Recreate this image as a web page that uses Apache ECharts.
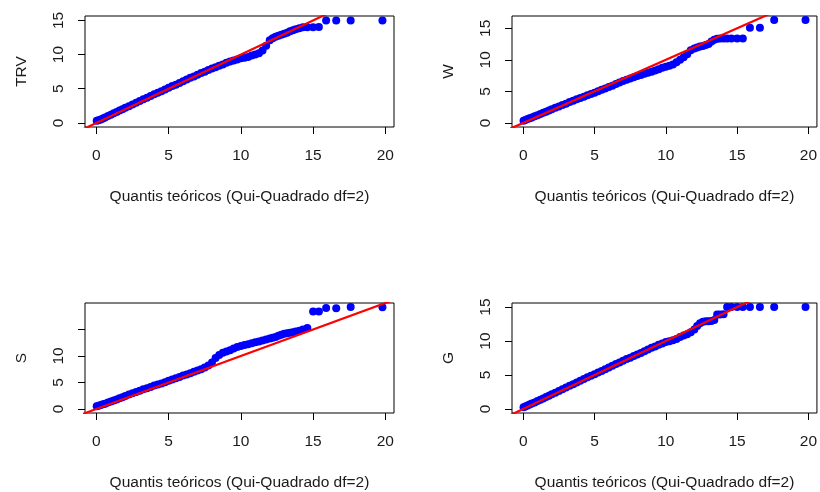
<!DOCTYPE html>
<html>
<head>
<meta charset="utf-8">
<script src="https://cdn.jsdelivr.net/npm/echarts@6/dist/echarts.min.js"></script>
<style>html,body{margin:0;padding:0;background:#fff}#c{width:820px;height:492px}</style>
</head>
<body>
<div id="c"></div>
<script>
// Theoretical quantiles (chi-square, df = 2), shared by all panels
const quantisTeoricos = [0.02,0.15,0.3,0.45,0.6,0.8,1.0,1.2,1.4,1.6,1.8,2.0,2.25,2.5,2.75,3.0,3.25,3.5,3.75,4.0,4.25,4.5,4.75,5.0,5.25,5.5,5.75,6.0,6.25,6.5,6.75,7.0,7.25,7.5,7.75,8.0,8.25,8.5,8.75,9.0,9.25,9.5,9.75,10.0,10.25,10.5,10.75,11.0,11.25,11.5,11.75,12.0,12.2,12.4,12.6,12.8,13.0,13.2,13.4,13.6,13.8,14.05,14.3,14.6,15.0,15.4,15.9,16.6,17.6,19.8];

// Sample quantiles
const valoresTRV = [0.3,0.4,0.5,0.65,0.8,1.0,1.2,1.4,1.6,1.8,2.0,2.2,2.45,2.7,2.95,3.2,3.45,3.7,3.95,4.2,4.4,4.65,4.9,5.15,5.4,5.6,5.85,6.1,6.35,6.6,6.8,7.05,7.3,7.5,7.75,7.95,8.15,8.35,8.55,8.8,9.0,9.15,9.3,9.45,9.55,9.65,9.85,10.0,10.2,10.6,11.3,12.1,12.4,12.6,12.75,12.9,13.05,13.2,13.4,13.55,13.7,13.85,14.0,14.0,14.0,14.05,15.0,15.0,15.0,15.0];
const valoresW = [0.35,0.45,0.6,0.75,0.85,1.05,1.2,1.4,1.6,1.75,1.95,2.15,2.4,2.6,2.85,3.05,3.3,3.5,3.75,3.95,4.15,4.4,4.6,4.8,5.0,5.25,5.45,5.7,5.9,6.15,6.4,6.65,6.85,7.05,7.25,7.45,7.6,7.8,7.95,8.1,8.3,8.5,8.75,8.9,9.05,9.25,9.6,10.0,10.4,10.9,11.5,11.8,11.95,12.1,12.2,12.35,12.5,12.9,13.2,13.35,13.4,13.4,13.4,13.4,13.4,13.4,15.1,15.1,16.3,16.3];
const valoresS = [0.5,0.6,0.75,0.9,1.0,1.2,1.4,1.6,1.8,2.0,2.2,2.45,2.7,2.95,3.2,3.45,3.7,3.9,4.15,4.4,4.6,4.8,5.05,5.3,5.55,5.8,6.05,6.3,6.5,6.75,7.0,7.25,7.5,7.8,8.2,8.75,9.6,10.2,10.6,10.85,11.1,11.4,11.7,11.9,12.05,12.2,12.4,12.6,12.75,12.9,13.1,13.3,13.45,13.6,13.8,14.0,14.2,14.3,14.4,14.5,14.6,14.75,15.0,15.3,18.4,18.4,19.05,19.0,19.25,19.2];
const valoresG = [0.25,0.35,0.5,0.65,0.8,0.95,1.15,1.35,1.55,1.75,1.95,2.15,2.4,2.65,2.9,3.15,3.4,3.65,3.9,4.15,4.4,4.65,4.9,5.1,5.35,5.6,5.85,6.1,6.35,6.6,6.85,7.1,7.35,7.55,7.8,8.0,8.25,8.5,8.75,9.0,9.2,9.45,9.65,9.85,9.95,10.1,10.3,10.6,10.8,11.0,11.3,11.7,12.2,12.6,12.85,12.9,12.9,12.95,13.1,13.9,13.9,13.95,15.0,15.0,15.0,15.0,15.0,15.0,15.0,15.0];

// Reference line y = x
const linhaReferencia = [[-5,-5],[30,30]];

// Axis ticks
const ticksX = [0,5,10,15,20];
const ticksY = [0,5,10,15];
const rotulosYTRV = [0,5,10,15];
const rotulosYW = [0,5,10,15];
const rotulosYS = [0,5,10];
const rotulosYG = [0,5,10,15];

const nomesY = ['TRV','W','S','G'];
const series = [valoresTRV, valoresW, valoresS, valoresG];
const rotulosY = [rotulosYTRV, rotulosYW, rotulosYS, rotulosYG];
const tituloX = 'Quantis teóricos (Qui-Quadrado df=2)';

// Layout (not data)
const grids = [
  {left:85, top:16, width:309, height:111},
  {left:512, top:16, width:309, height:111},
  {left:85, top:303, width:309, height:111},
  {left:512, top:303, width:309, height:111}
];
const limitesY = [[-0.6,15.65],[-0.65,16.95],[-0.77,20.0],[-0.6,15.6]];
const limitesX = [-0.79, 20.6];

const FONT = "'Liberation Sans', Arial, Helvetica, sans-serif";
const FS = 15.5;
const TXT = '#1a1a1a';

const option = {
  animation: false,
  backgroundColor: '#fff',
  grid: grids.map(g => Object.assign({show:true, borderColor:'#000', borderWidth:1, backgroundColor:'transparent', containLabel:false}, g)),
  xAxis: grids.map((g,i) => ({
    type:'value', gridIndex:i, min:limitesX[0], max:limitesX[1],
    name: tituloX, nameLocation:'middle', nameGap:62,
    nameTextStyle:{fontFamily:FONT, fontSize:FS, color:TXT},
    axisLine:{show:false, onZero:false},
    axisTick:{show:true, inside:false, length:7, customValues:ticksX, lineStyle:{color:'#000', width:1}},
    axisLabel:{show:true, customValues:ticksX, margin:21, fontFamily:FONT, fontSize:FS, color:TXT, showMinLabel:true, showMaxLabel:true},
    splitLine:{show:false}
  })),
  yAxis: grids.map((g,i) => ({
    type:'value', gridIndex:i, min:limitesY[i][0], max:limitesY[i][1],
    name: nomesY[i], nameLocation:'middle', nameGap:55, nameRotate:90,
    nameTextStyle:{fontFamily:FONT, fontSize:FS, color:TXT},
    axisLine:{show:false, onZero:false},
    axisTick:{show:true, inside:false, length:7, customValues:ticksY, lineStyle:{color:'#000', width:1}},
    axisLabel:{show:true, customValues:rotulosY[i], rotate:90, margin:18, fontFamily:FONT, fontSize:FS, color:TXT},
    splitLine:{show:false}
  })),
  series: []
};

series.forEach((vals, i) => {
  option.series.push({
    type:'scatter', xAxisIndex:i, yAxisIndex:i,
    data: quantisTeoricos.map((q,k) => [q, vals[k]]),
    symbol:'circle', symbolSize:8,
    itemStyle:{color:'#0000ff', opacity:1},
    emphasis:{disabled:true}, z:2, clip:true
  });
  option.series.push({
    type:'line', xAxisIndex:i, yAxisIndex:i,
    data: linhaReferencia, showSymbol:false, symbol:'none',
    lineStyle:{color:'#ff0000', width:2.2}, z:3, clip:true,
    emphasis:{disabled:true}
  });
});

const chart = echarts.init(document.getElementById('c'), null, {renderer:'canvas'});
chart.setOption(option);
</script>
</body>
</html>
